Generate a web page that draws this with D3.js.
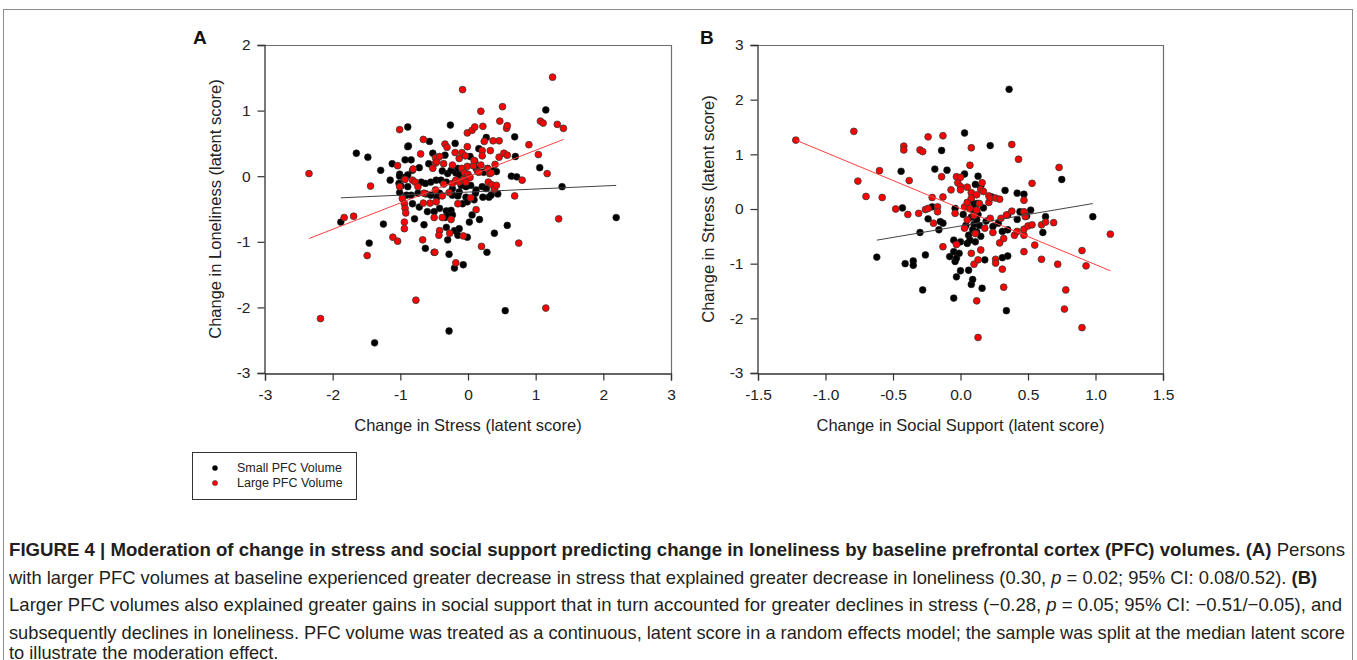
<!DOCTYPE html>
<html>
<head>
<meta charset="utf-8">
<script src="https://cdn.jsdelivr.net/npm/d3@7"></script>
<style>
  body { margin: 0; background: #fff; }
  svg { display: block; font-family: "Liberation Sans", Arial, sans-serif; }
</style>
</head>
<body>
<svg id="fig" width="1357" height="660"></svg>
<script>
// Panel A: change in stress (x) vs change in loneliness (y)
const smallA = [
  [-1.88,-0.70],[-1.65,0.35],[-1.48,0.29],[-1.46,-1.02],[-1.38,-2.54],[-1.29,0.09],[-1.25,-0.73],
  [-1.12,0.19],[-1.15,-0.06],[-1.01,0.03],[-1.02,-0.11],[-1.01,0.00],[-0.99,-0.15],[-1.01,-0.25],
  [-0.94,-0.04],[-0.93,-0.02],[-0.89,0.02],[-0.89,0.75],[-0.89,0.45],[-0.89,-0.16],[-0.93,0.25],
  [-0.84,0.25],[-0.88,0.46],[-0.91,-0.29],[-0.84,-0.29],[-0.82,0.09],[-0.82,-0.42],[-0.79,-0.65],
  [-0.74,-0.26],[-0.72,0.13],[-0.72,-0.47],[-0.69,-0.09],[-0.65,-0.74],[-0.63,-0.11],[-0.63,-1.10],
  [-0.62,-0.27],[-0.60,-0.54],[-0.58,0.19],[-0.57,0.53],[-0.55,-0.09],[-0.55,-0.29],[-0.52,0.35],
  [-0.50,-0.54],[-0.50,-1.16],[-0.47,-0.06],[-0.46,-0.32],[-0.42,-0.26],[-0.42,-0.49],[-0.40,-0.06],
  [-0.38,0.08],[-0.34,0.32],[-0.34,-0.63],[-0.32,-0.09],[-0.32,-0.53],[-0.32,-0.78],[-0.30,0.04],
  [-0.30,-0.97],[-0.29,-0.59],[-0.28,-1.19],[-0.28,-2.36],[-0.26,0.78],[-0.25,0.09],[-0.25,-0.52],
  [-0.23,-0.29],[-0.23,-0.59],[-0.23,-0.19],[-0.20,-0.83],[-0.20,-1.40],[-0.19,0.50],[-0.18,0.05],
  [-0.15,0.12],[-0.15,-0.30],[-0.15,-0.90],[-0.13,0.02],[-0.13,-0.24],[-0.13,-0.80],[-0.10,-0.14],
  [-0.08,-0.42],[-0.07,-1.35],[-0.03,-0.16],[-0.03,-0.32],[-0.01,-0.39],[-0.01,-0.93],[0.02,-0.70],
  [0.03,0.30],[0.04,-0.14],[0.06,-0.59],[0.09,-0.36],[0.10,0.23],[0.11,-0.26],[0.12,0.12],
  [0.12,-0.21],[0.16,0.42],[0.17,-0.66],[0.21,-0.16],[0.22,-0.32],[0.23,0.06],[0.27,0.59],
  [0.27,-0.19],[0.28,-1.16],[0.29,0.12],[0.31,-0.32],[0.34,-0.29],[0.36,0.09],[0.39,-0.87],
  [0.42,0.07],[0.44,-0.27],[0.55,-2.05],[0.58,-0.75],[0.64,0.00],[0.69,0.60],[0.70,0.30],
  [0.72,-0.01],[1.06,0.13],[1.15,1.01],[1.39,-0.16],[2.19,-0.63]
];
const largeA = [
  [-2.35,0.04],[-2.18,-2.17],[-1.83,-0.63],[-1.69,-0.61],[-1.49,-1.21],[-1.44,-0.15],[-1.11,-0.93],
  [-1.04,0.16],[-1.04,-0.99],[-1.01,0.71],[-1.01,-0.16],[-0.97,-0.34],[-0.94,-0.42],[-0.93,-0.05],
  [-0.93,-0.49],[-0.92,-0.56],[-0.94,-0.70],[-0.94,-0.80],[-0.81,0.11],[-0.82,-0.06],[-0.78,-0.09],
  [-0.77,-1.89],[-0.74,-0.16],[-0.70,0.34],[-0.67,-0.97],[-0.66,0.56],[-0.66,-0.41],[-0.65,-0.26],
  [-0.56,-0.41],[-0.52,0.12],[-0.49,-1.16],[-0.48,0.28],[-0.48,0.20],[-0.48,-0.21],[-0.47,-0.39],
  [-0.50,-0.63],[-0.46,0.22],[-0.42,0.30],[-0.42,-0.83],[-0.43,-0.90],[-0.38,-0.30],[-0.38,-0.63],
  [-0.36,0.19],[-0.36,-0.12],[-0.34,0.49],[-0.31,0.44],[-0.28,-0.25],[-0.27,-0.87],[-0.25,-0.66],
  [-0.23,0.17],[-0.23,-0.11],[-0.19,0.36],[-0.18,-0.06],[-0.18,-1.32],[-0.15,-0.42],[-0.13,0.27],
  [-0.13,-0.09],[-0.09,0.36],[-0.09,0.12],[-0.08,1.32],[-0.07,-0.05],[-0.07,-0.91],[-0.05,0.05],
  [-0.04,0.31],[-0.03,-0.09],[-0.01,0.66],[-0.01,0.15],[-0.01,0.45],[0.00,0.03],[0.03,-0.02],
  [0.04,-0.33],[0.06,0.70],[0.08,0.16],[0.09,0.24],[0.10,0.75],[0.12,-0.51],[0.14,0.07],
  [0.16,0.06],[0.19,0.99],[0.19,0.17],[0.20,-1.07],[0.21,0.39],[0.21,0.31],[0.22,0.76],
  [0.24,0.53],[0.29,0.11],[0.30,-0.09],[0.32,0.04],[0.33,0.39],[0.34,0.05],[0.35,-0.13],
  [0.37,0.54],[0.39,-0.20],[0.40,0.18],[0.42,-0.14],[0.46,0.29],[0.46,0.54],[0.47,0.84],
  [0.51,1.06],[0.53,0.35],[0.57,0.73],[0.58,0.77],[0.58,0.32],[0.69,-0.30],[0.75,-1.02],
  [0.80,-0.06],[0.90,0.48],[1.04,0.33],[1.07,0.84],[1.11,0.81],[1.15,-2.01],[1.17,0.04],
  [1.25,1.51],[1.32,0.79],[1.34,-0.65],[1.41,0.73]
];
const fitSmallA = [[-1.88,-0.33],[2.19,-0.14]];
const fitLargeA = [[-2.35,-0.95],[1.41,0.56]];

// Panel B: change in social support (x) vs change in stress (y)
const smallB = [
  [-0.62,-0.88],[-0.44,0.69],[-0.43,0.02],[-0.41,-1.00],[-0.35,-0.95],[-0.35,-1.03],[-0.30,-0.43],
  [-0.28,-1.48],[-0.26,-0.84],[-0.24,-0.18],[-0.21,0.04],[-0.19,0.73],[-0.15,-0.23],[-0.16,-0.38],
  [-0.14,1.07],[-0.13,-0.26],[-0.10,0.71],[-0.08,-0.87],[-0.05,-0.78],[-0.05,-1.63],[-0.05,-0.57],
  [-0.04,0.01],[-0.04,-0.96],[-0.03,-0.90],[-0.03,-1.24],[-0.01,-0.81],[0.00,-1.13],[0.00,-0.60],
  [0.02,-0.10],[0.03,1.39],[0.03,0.64],[0.04,-0.30],[0.05,-0.63],[0.06,-1.12],[0.06,-0.48],
  [0.07,-0.57],[0.08,0.15],[0.08,-0.15],[0.08,-1.38],[0.09,-1.29],[0.09,-0.38],[0.10,0.05],
  [0.10,-0.05],[0.10,-0.28],[0.11,0.45],[0.11,-0.60],[0.12,0.10],[0.12,-0.20],[0.12,-0.42],
  [0.13,0.60],[0.13,0.10],[0.13,-0.10],[0.14,-0.30],[0.15,0.41],[0.15,-0.50],[0.16,-1.45],
  [0.17,0.02],[0.18,-0.93],[0.19,-0.22],[0.22,1.16],[0.23,0.22],[0.24,-0.32],[0.28,-0.26],
  [0.31,-0.41],[0.31,-0.89],[0.33,0.34],[0.34,-1.86],[0.35,-0.86],[0.35,-0.11],[0.35,-0.38],
  [0.36,2.19],[0.42,0.29],[0.42,-0.19],[0.44,-0.05],[0.47,0.27],[0.49,-0.13],[0.52,-0.02],
  [0.61,-0.43],[0.63,-0.14],[0.75,0.54],[0.98,-0.14]
];
const largeB = [
  [-1.22,1.26],[-0.79,1.42],[-0.76,0.51],[-0.70,0.23],[-0.60,0.70],[-0.58,0.21],[-0.48,0.00],
  [-0.42,1.15],[-0.42,1.08],[-0.39,-0.10],[-0.38,0.52],[-0.31,-0.08],[-0.30,1.08],[-0.28,1.05],
  [-0.26,-0.01],[-0.24,1.32],[-0.24,0.01],[-0.21,0.21],[-0.20,-0.26],[-0.17,0.04],[-0.17,-0.05],
  [-0.14,0.59],[-0.13,1.34],[-0.13,0.22],[-0.13,-0.69],[-0.07,0.35],[-0.04,-0.08],[-0.03,0.59],
  [-0.03,-0.65],[-0.02,0.48],[0.00,0.58],[0.00,0.41],[0.00,0.35],[0.03,0.04],[0.03,-0.35],
  [0.05,0.40],[0.05,0.12],[0.05,-0.20],[0.07,0.80],[0.07,0.01],[0.08,1.12],[0.08,0.30],
  [0.08,0.20],[0.08,-0.81],[0.10,-1.01],[0.10,-0.12],[0.11,-0.45],[0.12,0.26],[0.12,-0.02],
  [0.12,-1.68],[0.13,-0.93],[0.13,-2.35],[0.14,0.10],[0.15,0.36],[0.15,-0.75],[0.16,0.48],
  [0.17,0.32],[0.18,-0.35],[0.21,0.24],[0.21,0.12],[0.22,0.20],[0.22,-0.17],[0.24,-0.43],
  [0.26,0.20],[0.26,-0.92],[0.26,-0.99],[0.29,0.18],[0.29,-0.62],[0.30,-0.17],[0.31,-1.10],
  [0.32,-0.54],[0.32,-1.43],[0.34,-0.11],[0.38,1.18],[0.38,-0.04],[0.40,-0.48],[0.42,-0.41],
  [0.43,0.91],[0.47,0.16],[0.47,-0.05],[0.47,-0.48],[0.47,-0.37],[0.47,-0.78],[0.48,-0.14],
  [0.50,-0.31],[0.53,0.47],[0.53,-0.29],[0.55,-0.66],[0.60,-0.29],[0.60,-0.92],[0.63,-0.24],
  [0.69,-0.25],[0.72,-1.01],[0.73,0.76],[0.77,-1.83],[0.78,-1.48],[0.90,-0.76],[0.90,-2.17],
  [0.93,-1.04],[1.11,-0.46]
];
const fitSmallB = [[-0.62,-0.57],[0.98,0.10]];
const fitLargeB = [[-1.22,1.26],[1.11,-1.13]];

const ticksAx = [-3, -2, -1, 0, 1, 2, 3];
const ticksAy = [-3, -2, -1, 0, 1, 2];
const ticksBx = [-1.5, -1.0, -0.5, 0.0, 0.5, 1.0, 1.5];
const ticksBy = [-3, -2, -1, 0, 1, 2, 3];

const legendLabels = ['Small PFC Volume', 'Large PFC Volume'];

const svg = d3.select('#fig');
const fmtMinus = s => s.replace('\u2212', '-');

// outer figure frame
svg.append('rect')
  .attr('x', 3.5).attr('y', 9.5)
  .attr('width', 1349).attr('height', 700)
  .attr('fill', 'none').attr('stroke', '#8c8c8c').attr('stroke-width', 1);

function drawPanel(opt) {
  const x = d3.scaleLinear().domain(opt.xDomain).range([opt.left, opt.right]);
  const y = d3.scaleLinear().domain(opt.yDomain).range([opt.bottom, opt.top]);
  const g = svg.append('g');

  // frame (top and right edges)
  g.append('path')
    .attr('d', `M${opt.left},${opt.top + 0.5}H${opt.right + 0.5}V${opt.bottom}`)
    .attr('fill', 'none').attr('stroke', '#6e6e6e').attr('stroke-width', 1.2);

  const xAxis = g.append('g')
    .attr('transform', `translate(0,${opt.bottom + 0.5})`)
    .call(d3.axisBottom(x).tickValues(opt.xTicks).tickSize(7).tickPadding(8)
      .tickFormat(d => fmtMinus(d3.format(opt.xFmt)(d))));
  const yAxis = g.append('g')
    .attr('transform', `translate(${opt.left - 0.5},0)`)
    .call(d3.axisLeft(y).tickValues(opt.yTicks).tickSize(7).tickPadding(7)
      .tickFormat(d => fmtMinus(d3.format('d')(d))));
  [xAxis, yAxis].forEach(a => {
    a.select('.domain').attr('stroke', '#333').attr('stroke-width', 1.3);
    a.selectAll('.tick line').attr('stroke', '#333').attr('stroke-width', 1.2);
    a.selectAll('.tick text').attr('fill', '#222')
      .style('font-size', '15.5px').style('font-family', '"Liberation Sans", Arial, sans-serif');
  });

  // points: small volume (black) then large volume (red)
  g.append('g').selectAll('circle').data(opt.small).join('circle')
    .attr('cx', d => x(d[0])).attr('cy', d => y(d[1])).attr('r', 3.4)
    .attr('fill', '#000').attr('stroke', '#222').attr('stroke-width', 0.6);
  g.append('g').selectAll('circle').data(opt.large).join('circle')
    .attr('cx', d => x(d[0])).attr('cy', d => y(d[1])).attr('r', 3.4)
    .attr('fill', '#ff0000').attr('stroke', '#3a3a3a').attr('stroke-width', 0.8);

  const line = d3.line().x(d => x(d[0])).y(d => y(d[1]));
  g.append('path').attr('d', line(opt.fitSmall))
    .attr('fill', 'none').attr('stroke', '#444').attr('stroke-width', 1);
  g.append('path').attr('d', line(opt.fitLarge))
    .attr('fill', 'none').attr('stroke', '#ff4040').attr('stroke-width', 1);

  // axis titles
  g.append('text')
    .attr('x', (opt.left + opt.right) / 2).attr('y', opt.bottom + 58)
    .attr('text-anchor', 'middle').style('font-size', '16.5px').attr('fill', '#222')
    .text(opt.xTitle);
  g.append('text')
    .attr('transform', `translate(${opt.yTitleX},${(opt.top + opt.bottom) / 2}) rotate(-90)`)
    .attr('text-anchor', 'middle').style('font-size', '16.5px').attr('fill', '#222')
    .text(opt.yTitle);

  // panel letter
  g.append('text')
    .attr('x', opt.letterX).attr('y', 44)
    .style('font-size', '19px').style('font-weight', 'bold').attr('fill', '#111')
    .text(opt.letter);
}

drawPanel({
  letter: 'A', letterX: 193,
  left: 265, right: 671, top: 45, bottom: 373,
  xDomain: [-3, 3], yDomain: [-3, 2],
  xTicks: ticksAx, yTicks: ticksAy, xFmt: 'd',
  small: smallA, large: largeA, fitSmall: fitSmallA, fitLarge: fitLargeA,
  xTitle: 'Change in Stress (latent score)',
  yTitle: 'Change in Loneliness (latent score)', yTitleX: 221
});

drawPanel({
  letter: 'B', letterX: 700,
  left: 758, right: 1163, top: 45, bottom: 373,
  xDomain: [-1.5, 1.5], yDomain: [-3, 3],
  xTicks: ticksBx, yTicks: ticksBy, xFmt: '.1f',
  small: smallB, large: largeB, fitSmall: fitSmallB, fitLarge: fitLargeB,
  xTitle: 'Change in Social Support (latent score)',
  yTitle: 'Change in Stress (latent score)', yTitleX: 714
});

// legend
const legend = svg.append('g');
legend.append('rect')
  .attr('x', 192.5).attr('y', 452.5).attr('width', 164).attr('height', 47)
  .attr('fill', '#fff').attr('stroke', '#333').attr('stroke-width', 1);
legend.selectAll('circle').data(legendLabels).join('circle')
  .attr('cx', 215).attr('cy', (d, i) => 468 + i * 15).attr('r', 2.6)
  .attr('fill', (d, i) => i === 0 ? '#000' : '#ff0000')
  .attr('stroke', '#333').attr('stroke-width', 0.5);
legend.selectAll('text').data(legendLabels).join('text')
  .attr('x', 237).attr('y', (d, i) => 472 + i * 15)
  .style('font-size', '12.5px').attr('fill', '#222')
  .text(d => d);

// caption
const captionLines = [
  [['b', 'FIGURE 4 | Moderation of change in stress and social support predicting change in loneliness by baseline prefrontal cortex (PFC) volumes. (A)'], ['r', ' Persons']],
  [['r', 'with larger PFC volumes at baseline experienced greater decrease in stress that explained greater decrease in loneliness (0.30, '], ['i', 'p'], ['r', ' = 0.02; 95% CI: 0.08/0.52). '], ['b', '(B)']],
  [['r', 'Larger PFC volumes also explained greater gains in social support that in turn accounted for greater declines in stress (\u22120.28, '], ['i', 'p'], ['r', ' = 0.05; 95% CI: \u22120.51/\u22120.05), and']],
  [['r', 'subsequently declines in loneliness. PFC volume was treated as a continuous, latent score in a random effects model; the sample was split at the median latent score']],
  [['r', 'to illustrate the moderation effect.']]
];
// full-justified widths of lines 1-4; the last line keeps line 4's squeeze
const captionWidths = [1336, 1308, 1333, 1336, null];
const captionBaselines = [556, 583.6, 611.2, 638.8, 659];
const caption = svg.append('g')
  .style('font-family', '"Liberation Sans", Arial, sans-serif')
  .style('font-size', '18.5px').attr('fill', '#231f20');
let squeeze = 1;
captionLines.forEach((parts, i) => {
  const t = caption.append('text')
    .attr('x', 9).attr('y', captionBaselines[i]);
  parts.forEach(p => {
    t.append('tspan')
      .style('font-weight', p[0] === 'b' ? 'bold' : 'normal')
      .style('font-style', p[0] === 'i' ? 'italic' : 'normal')
      .text(p[1]);
  });
  const natural = t.node().getComputedTextLength();
  let w = captionWidths[i];
  if (w) squeeze = w / natural; else w = natural * squeeze;
  t.attr('textLength', w).attr('lengthAdjust', 'spacingAndGlyphs');
});
</script>
</body>
</html>
